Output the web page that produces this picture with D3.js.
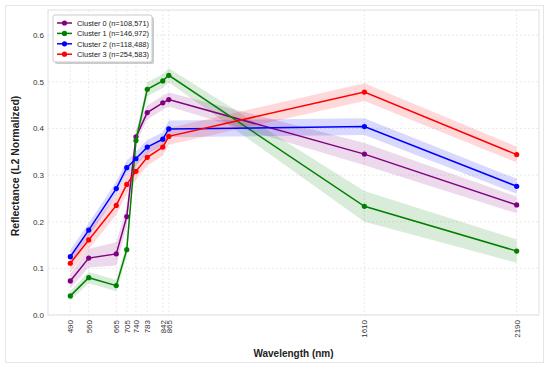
<!DOCTYPE html>
<html>
<head>
<meta charset="utf-8">
<script src="https://cdn.jsdelivr.net/npm/d3@7"></script>
<style>
  body { margin: 0; background: #fff; }
  text { font-family: "Liberation Sans", Arial, sans-serif; }
</style>
</head>
<body>
<div id="chart"></div>
<script>
// Wavelengths (nm) used as x positions and tick labels
const wavelengths = [490, 560, 665, 705, 740, 783, 842, 865, 1610, 2190];

const clusterNames = ["Cluster 0", "Cluster 1", "Cluster 2", "Cluster 3"];
const clusterCounts = ["108,571", "146,972", "118,488", "254,583"];
const clusterColors = ["#800080", "#008000", "#0000ff", "#ff0000"];

// mean reflectance per cluster
const cluster0 = [0.073, 0.122, 0.131, 0.211, 0.382, 0.434, 0.455, 0.462, 0.345, 0.236];
const cluster1 = [0.041, 0.080, 0.063, 0.140, 0.374, 0.484, 0.502, 0.514, 0.233, 0.137];
const cluster2 = [0.125, 0.182, 0.271, 0.316, 0.335, 0.360, 0.377, 0.399, 0.404, 0.276];
const cluster3 = [0.111, 0.161, 0.235, 0.280, 0.308, 0.338, 0.360, 0.383, 0.478, 0.344];

// spread (shaded band half-width)
const spread0 = [0.015, 0.02, 0.025, 0.02, 0.015, 0.015, 0.015, 0.015, 0.024, 0.018];
const spread1 = [0.01, 0.012, 0.012, 0.015, 0.015, 0.015, 0.015, 0.015, 0.033, 0.025];
const spread2 = [0.015, 0.015, 0.015, 0.015, 0.015, 0.015, 0.015, 0.018, 0.018, 0.016];
const spread3 = [0.02, 0.02, 0.02, 0.02, 0.018, 0.018, 0.018, 0.018, 0.019, 0.017];

const yTicks = [0.0, 0.1, 0.2, 0.3, 0.4, 0.5, 0.6];

const means = [cluster0, cluster1, cluster2, cluster3];
const spreads = [spread0, spread1, spread2, spread3];

const width = 550, height = 370;
const margin = { top: 10, right: 11, bottom: 55, left: 48 };

const svg = d3.select("#chart")
    .append("svg")
        .attr("width", width)
        .attr("height", height);

// outer figure frame
svg.append("rect")
    .attr("x", 5.5).attr("y", 5.5)
    .attr("width", 538).attr("height", 357)
    .attr("fill", "#fff")
    .attr("stroke", "#e6e6e6");

const xScale = d3.scaleLinear()
    .domain([405, 2275])
    .range([margin.left, width - margin.right]);

const yScale = d3.scaleLinear()
    .domain([0, 0.654])
    .range([height - margin.bottom, margin.top]);

const plot = svg.append("g");

// grid
plot.append("g")
    .selectAll("line")
    .data(yTicks)
    .join("line")
        .attr("x1", margin.left)
        .attr("x2", width - margin.right)
        .attr("y1", d => yScale(d))
        .attr("y2", d => yScale(d))
        .attr("stroke", "#e4e4e4")
        .attr("stroke-width", 0.8)
        .attr("stroke-dasharray", "2,2");

plot.append("g")
    .selectAll("line")
    .data(wavelengths)
    .join("line")
        .attr("x1", d => xScale(d))
        .attr("x2", d => xScale(d))
        .attr("y1", margin.top)
        .attr("y2", height - margin.bottom)
        .attr("stroke", "#e4e4e4")
        .attr("stroke-width", 0.8)
        .attr("stroke-dasharray", "2,2");

// bands
const area = d3.area()
    .x((d, i) => xScale(wavelengths[i]))
    .y0(d => yScale(d[0] - d[1]))
    .y1(d => yScale(d[0] + d[1]));

const line = d3.line()
    .x((d, i) => xScale(wavelengths[i]))
    .y(d => yScale(d));

means.forEach((m, c) => {
    plot.append("path")
        .datum(m.map((v, i) => [v, spreads[c][i]]))
        .attr("d", area)
        .attr("fill", clusterColors[c])
        .attr("fill-opacity", 0.15);
});

means.forEach((m, c) => {
    const g = plot.append("g");
    g.append("path")
        .datum(m)
        .attr("d", line)
        .attr("fill", "none")
        .attr("stroke", clusterColors[c])
        .attr("stroke-width", 1.5);
    g.selectAll("circle")
        .data(m)
        .join("circle")
            .attr("cx", (d, i) => xScale(wavelengths[i]))
            .attr("cy", d => yScale(d))
            .attr("r", 2.6)
            .attr("fill", clusterColors[c]);
});

// plot frame
svg.append("rect")
    .attr("x", margin.left)
    .attr("y", margin.top)
    .attr("width", width - margin.left - margin.right)
    .attr("height", height - margin.top - margin.bottom)
    .attr("fill", "none")
    .attr("stroke", "#e0e0e0")
    .attr("stroke-width", 1);

// y tick labels
svg.append("g")
    .selectAll("text")
    .data(yTicks)
    .join("text")
        .text(d => d.toFixed(1))
        .attr("x", margin.left - 4)
        .attr("y", d => yScale(d) + 3)
        .attr("text-anchor", "end")
        .style("font-size", "8px")
        .style("fill", "#333");

// x tick labels (rotated)
svg.append("g")
    .selectAll("text")
    .data(wavelengths)
    .join("text")
        .text(d => d)
        .attr("transform", d => `translate(${xScale(d) + 3}, ${height - margin.bottom + 5}) rotate(-90)`)
        .attr("text-anchor", "end")
        .style("font-size", "8px")
        .style("fill", "#333");

// axis titles
svg.append("text")
    .text("Wavelength (nm)")
    .attr("x", (margin.left + width - margin.right) / 2)
    .attr("y", 357)
    .attr("text-anchor", "middle")
    .style("font-size", "10px")
    .style("font-weight", "bold")
    .style("fill", "#222");

svg.append("text")
    .text("Reflectance (L2 Normalized)")
    .attr("transform", `translate(19, 166) rotate(-90)`)
    .attr("text-anchor", "middle")
    .style("font-size", "10.5px")
    .style("font-weight", "bold")
    .style("fill", "#222");

// legend
const legend = svg.append("g").attr("transform", "translate(53, 15)");
legend.append("rect")
    .attr("x", 2).attr("y", 2)
    .attr("width", 99).attr("height", 47)
    .attr("rx", 2)
    .attr("fill", "#999").attr("fill-opacity", 0.5);
legend.append("rect")
    .attr("width", 99).attr("height", 47)
    .attr("rx", 2)
    .attr("fill", "#fff")
    .attr("stroke", "#ccc");

const item = legend.selectAll("g.item")
    .data(clusterNames)
    .join("g")
        .attr("class", "item")
        .attr("transform", (d, i) => `translate(4, ${8 + i * 10.4})`);
item.append("line")
    .attr("x1", 0).attr("x2", 15)
    .attr("stroke", (d, i) => clusterColors[i])
    .attr("stroke-width", 1.5);
item.append("circle")
    .attr("cx", 7.5).attr("r", 2.6)
    .attr("fill", (d, i) => clusterColors[i]);
item.append("text")
    .text((d, i) => `${d} (n=${clusterCounts[i]})`)
    .attr("x", 20)
    .attr("y", 2.8)
    .attr("textLength", 72)
    .attr("lengthAdjust", "spacingAndGlyphs")
    .style("font-size", "7.5px")
    .style("fill", "#222");
</script>
</body>
</html>
